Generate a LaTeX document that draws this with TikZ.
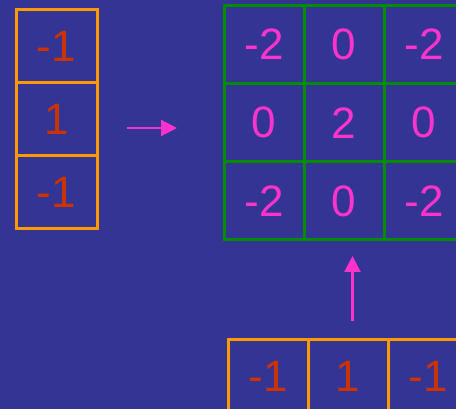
\documentclass[tikz,border=0pt]{standalone}
\usepackage{fontspec}
\setmainfont{Liberation Sans}
\usetikzlibrary{arrows.meta}
\definecolor{bgblue}{RGB}{52,52,148}
\definecolor{boxorange}{RGB}{255,153,0}
\definecolor{numred}{RGB}{204,51,0}
\definecolor{gridgreen}{RGB}{0,140,0}
\definecolor{numpink}{RGB}{255,51,204}
\tikzset{
  kcell/.style={draw=boxorange,line width=3pt,text=numred,minimum width=81pt,minimum height=73pt,inner sep=0pt,font=\fontsize{44}{44}\selectfont},
  rcell/.style={draw=gridgreen,line width=3pt,text=numpink,minimum width=80pt,minimum height=78pt,inner sep=0pt,font=\fontsize{44}{44}\selectfont},
  parrow/.style={draw=numpink,line width=2.2pt,-{Triangle[length=16pt,width=16pt]}}
}
\begin{document}
\begin{tikzpicture}[x=1pt,y=-1pt]
\useasboundingbox (0,0) rectangle (456,409);
\clip (0,0) rectangle (456,409);
\fill[bgblue] (0,0) rectangle (456,409);
% vertical kernel
\foreach \v [count=\i] in {-1,1,-1}
  \node[kcell] (col\i) at (56.5,{9.5+73.2*(\i-0.5)}) {\v};
% result grid
\foreach \a/\b/\c [count=\r] in {-2/0/-2,0/2/0,-2/0/-2} {
  \node[rcell] (g\r a) at (264,{5.5+78.2*(\r-0.5)}) {\a};
  \node[rcell] (g\r b) at (344,{5.5+78.2*(\r-0.5)}) {\b};
  \node[rcell] (g\r c) at (424,{5.5+78.2*(\r-0.5)}) {\c};
}
% horizontal kernel
\foreach \v [count=\i] in {-1,1,-1}
  \node[kcell,minimum width=80pt] (row\i) at ({188+80*\i},376.5) {\v};
% arrows
\coordinate (rstart) at (127,128);
\coordinate (rend) at (177,128);
\coordinate (ustart) at (352.5,321);
\coordinate (uend) at (352.5,256);
\draw[parrow] (rstart) -- (rend);
\draw[parrow] (ustart) -- (uend);
\end{tikzpicture}
\end{document}
